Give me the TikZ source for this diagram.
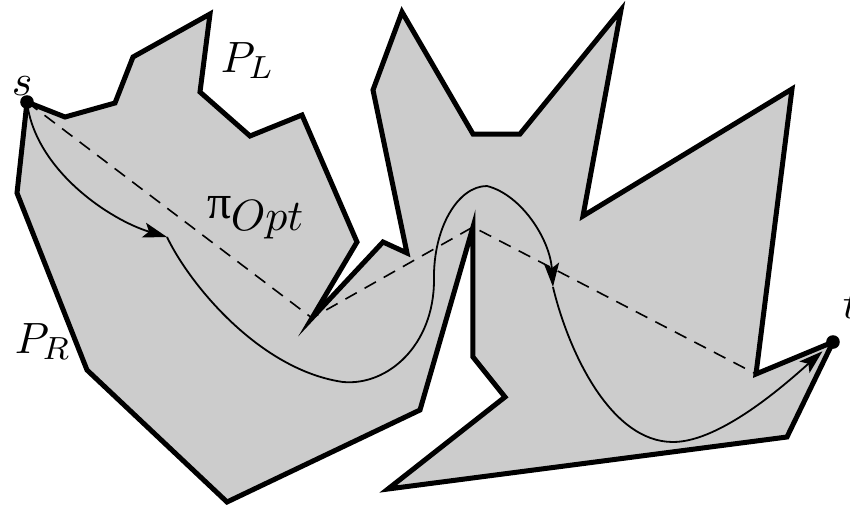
\documentclass[tikz,border=0pt]{standalone}
\usepackage[no-math]{fontspec}
\newfontfamily\piserif{Liberation Serif}
\usetikzlibrary{arrows.meta}
\definecolor{polyfill}{gray}{0.8}
\begin{document}
\begin{tikzpicture}[x=0.25pt,y=-0.25pt,
  polyline/.style={draw=black,line width=1.25pt,fill=polyfill,line join=miter},
  shortest/.style={line width=0.4pt,dash pattern=on 3.25pt off 2.25pt},
  walk/.style={line width=0.45pt},
  tipped/.style={-{Stealth[length=6pt,width=3.8pt,inset=1.3pt]}},
  lbl/.style={inner sep=0pt,anchor=base west,font=\fontsize{10.8}{12}\selectfont},
  dot/.style={circle,fill=black,inner sep=0pt,minimum size=3.4pt}]
\useasboundingbox (0,0) rectangle (850,505);
% key points
\coordinate (s) at (27,102);
\coordinate (t) at (833,342);
\coordinate (r1) at (312,318);
\coordinate (r2) at (473,227);
\coordinate (r3) at (756,374);
% polygon
\draw[polyline] (s) -- (65,117) -- (115,103) -- (133,57) -- (210,14) -- (200,92)
  -- (250,136) -- (302,115) -- (357,242) -- (r1) -- (383,242) -- (407,253)
  -- (373,90) -- (402,12) -- (473,134) -- (520,134) -- (621,10) -- (583,216)
  -- (792,89) -- (r3) -- (t) -- (787,437) -- (388,489) -- (505,397)
  -- (473,357) -- (r2) -- (420,410) -- (227,502) -- (87,370) -- (17,193) -- cycle;
% shortest path
\draw[shortest] (s) -- (r1) -- (r2) -- (r3) -- (t);
% walk
\coordinate (A) at (167,237);
\coordinate (C) at (343,382);
\coordinate (D) at (434,280);
\coordinate (E) at (487,186);
\coordinate (B) at (553,287);
\coordinate (F) at (673,442);
\draw[walk,tipped] (s) .. controls (35,170) and (110,220) .. (A);
\draw[walk,tipped] (A) .. controls (190,285) and (260,370) .. (C)
  .. controls (388,386) and (434,345) .. (D)
  .. controls (433,228) and (458,186) .. (E)
  .. controls (522,195) and (550,240) .. (B);
\draw[walk,tipped,shorten >=3.5pt] (B) .. controls (568,350) and (610,442) .. (F)
  .. controls (722,442) and (790,380) .. (t);
% dots
\node[dot] (sdot) at (s) {};
\node[dot] (tdot) at (t) {};
% labels
\node[lbl] (slab) at (11,95) {$s$};
\node[lbl] (tlab) at (842,318) {$t$};
\node[lbl] (pl) at (220,72) {$P_L$};
\node[lbl] (pr) at (14,353) {$P_R$};
\node[inner sep=0pt,anchor=base west] (pilab) at (207,218) {\fontsize{12}{12}\selectfont\piserif π};
\node[lbl] (opt) at (230,230) {$Opt$};
\end{tikzpicture}
\end{document}
